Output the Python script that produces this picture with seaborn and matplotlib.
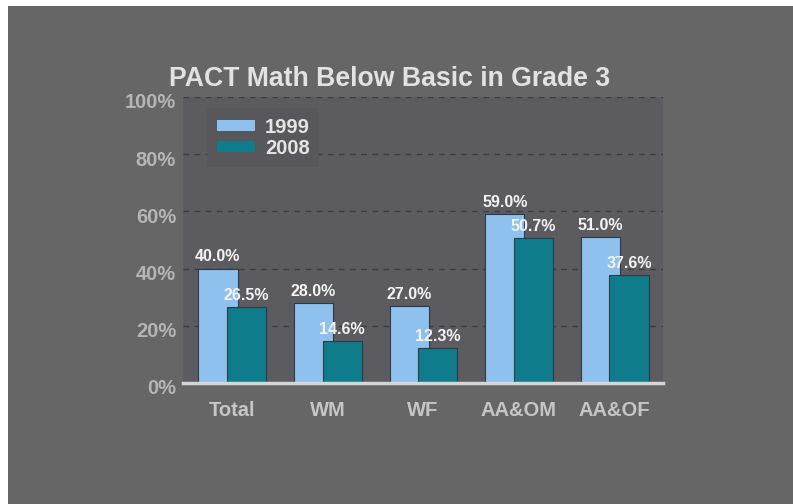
import matplotlib
matplotlib.use("Agg")
import matplotlib.pyplot as plt
import matplotlib.transforms as mtransforms
from matplotlib.patches import Rectangle, Patch
import seaborn as sns
import pandas as pd

categories = ["Total", "WM", "WF", "AA&OM", "AA&OF"]
years = ["1999", "2008"]
values_1999 = [40.0, 28.0, 27.0, 59.0, 51.0]
values_2008 = [26.5, 14.6, 12.3, 50.7, 37.6]
yticks = [0, 20, 40, 60, 80, 100]
ytick_labels = ["0%", "20%", "40%", "60%", "80%", "100%"]
title = "PACT Math Below Basic in Grade 3"

colors = {"1999": "#8fc1ee", "2008": "#0f7c8c"}

df = pd.DataFrame({
    "group": categories * 2,
    "year": ["1999"] * len(categories) + ["2008"] * len(categories),
    "value": values_1999 + values_2008,
})

sns.set_style("white")
plt.rcParams["font.family"] = ["Liberation Sans", "DejaVu Sans"]

fig = plt.figure(figsize=(7.93, 5.04), dpi=100)
fig.patch.set_facecolor("white")
fig.patches.append(Rectangle((8 / 793, 0), 1 - 8 / 793, 1 - 6 / 504,
                             transform=fig.transFigure, facecolor="#666666",
                             edgecolor="none", zorder=-10))

ax = fig.add_axes([183 / 793, 1 - 383 / 504, 480 / 793, 286 / 504])
ax.set_facecolor("#5c5c60")

sns.barplot(data=df, x="group", y="value", hue="year", hue_order=years,
            palette=colors, dodge=True, ax=ax, legend=False,
            edgecolor="#2c3a44", linewidth=0.8, saturation=1)

offsets = {0: -0.145, 1: 0.155}
bw = 0.41
for ci, cont in enumerate(ax.containers):
    for i, p in enumerate(cont.patches):
        p.set_x(i + offsets[ci] - bw / 2)
        p.set_width(bw)
    ax.bar_label(cont, fmt="%.1f%%", padding=3, color="#f4f4f4",
                 fontsize=11.5, fontweight="bold")

ax.set_xlim(-0.51, 4.51)
ax.set_ylim(0, 100)
ax.set_yticks(yticks)
ax.set_yticklabels(ytick_labels)
ax.set_xlabel("")
ax.set_ylabel("")

ax.grid(axis="y", color="#3c3c40", linestyle=(0, (4, 4)), linewidth=1)
ax.grid(axis="x", visible=False)
ax.set_axisbelow(True)

for s in ["top", "right", "left"]:
    ax.spines[s].set_visible(False)
ax.spines["bottom"].set_color("#d5d5d5")
ax.spines["bottom"].set_linewidth(2.5)
ax.spines["bottom"].set_zorder(5)

ax.tick_params(axis="y", length=0, pad=5, labelsize=14.5, labelcolor="#b5b5b5")
ax.tick_params(axis="x", length=5, width=2, color="#d5d5d5", direction="out",
               pad=8, labelsize=14.5, labelcolor="#c6c6c6")
for lab in ax.get_yticklabels():
    lab.set_fontweight("bold")
    lab.set_transform(lab.get_transform() +
                      mtransforms.ScaledTranslation(0, -0.04, fig.dpi_scale_trans))
for lab in ax.get_xticklabels():
    lab.set_fontweight("bold")

handles = [Patch(facecolor=colors[y], edgecolor="none", label=y) for y in years]
leg = ax.legend(handles=handles, loc="upper left", bbox_to_anchor=(0.03, 0.995),
                frameon=True, fancybox=False, handlelength=1.9, handleheight=0.45,
                handletextpad=0.5, labelspacing=0.12, borderpad=0.45,
                prop={"weight": "bold", "size": 14.5})
leg.get_frame().set_facecolor("#58585c")
leg.get_frame().set_edgecolor("none")
leg.get_frame().set_alpha(1)
for t in leg.get_texts():
    t.set_color("#e4e4e4")

fig.text(390 / 793, 1 - 79 / 504, title, ha="center", va="center",
         fontsize=19.2, fontweight="bold", color="#e2e2e2")

fig.savefig("out.png", dpi=100, facecolor=fig.get_facecolor())
